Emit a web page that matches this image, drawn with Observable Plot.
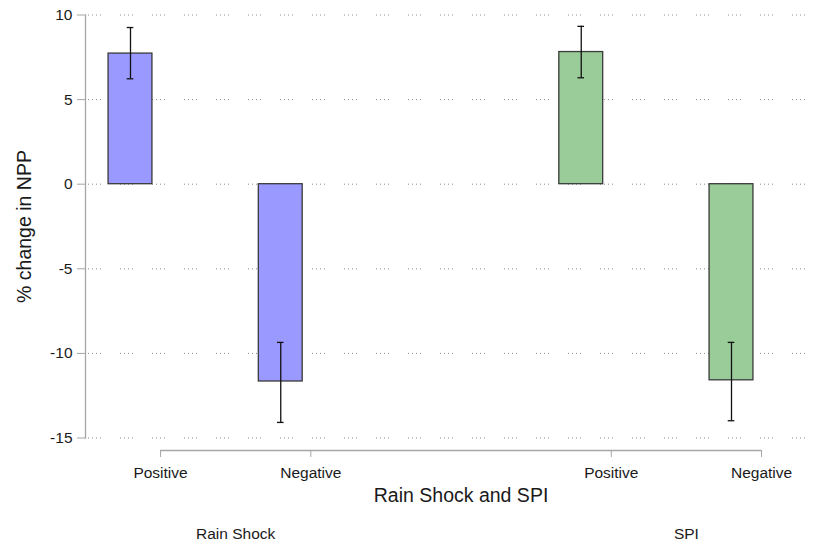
<!DOCTYPE html>
<html>
<head>
<meta charset="utf-8">
<script src="https://cdn.jsdelivr.net/npm/d3@7"></script>
<script src="https://cdn.jsdelivr.net/npm/@observablehq/plot@0.6"></script>
<style>
  html, body { margin: 0; padding: 0; background: #fff; }
</style>
</head>
<body>
<div id="chart"></div>
<script>
// ---- data ----
const groups = ["Rain Shock", "SPI"];
const categories = ["Positive", "Negative"];
const barGroup = ["Rain Shock", "Rain Shock", "SPI", "SPI"];
const barCategory = ["Positive", "Negative", "Positive", "Negative"];
const values = [7.72, -11.66, 7.81, -11.59];
const ciLow = [6.23, -14.08, 6.29, -13.98];
const ciHigh = [9.26, -9.35, 9.33, -9.35];
const yTicks = [-15, -10, -5, 0, 5, 10];
const xTitle = "Rain Shock and SPI";
const yTitle = "% change in NPP";
const groupColors = {"Rain Shock": "#9999ff", "SPI": "#99cc99"};

// ---- layout helpers ----
const slot = (g, c) => groups.indexOf(g) * 3 + categories.indexOf(c);
const tickShift = 0.2;
const halfBar = 0.146;
const halfCap = 0.022;

const data = values.map((v, i) => ({
  group: barGroup[i],
  cat: barCategory[i],
  value: v,
  lo: ciLow[i],
  hi: ciHigh[i],
  pos: slot(barGroup[i], barCategory[i])
}));

const xTicks = data.map(d => d.pos + tickShift);
const xTickLabel = new Map(data.map(d => [d.pos + tickShift, d.cat]));
const groupCenters = groups.map(g => {
  const t = data.filter(d => d.group === g).map(d => d.pos + tickShift);
  return {group: g, x: (d3.min(t) + d3.max(t)) / 2};
});

const axisColor = "#a6a6a6";
const textColor = "#1a1a1a";

const chart = Plot.plot({
  width: 820,
  height: 543,
  marginLeft: 85,
  marginRight: 0,
  marginTop: 14.5,
  marginBottom: 105.5,
  style: {fontFamily: "'Liberation Sans', Arial, sans-serif", fontSize: "15px", background: "#fff", color: textColor},
  x: {domain: [0, 4], range: [130, 731], axis: null},
  y: {domain: [-15, 10], axis: null},
  color: {type: "identity"},
  marks: [
    Plot.gridY(yTicks, {stroke: "#8c8c8c", strokeOpacity: 1, strokeDasharray: "1,3,1,3,1,3,1,19", insetLeft: 3}),
    Plot.frame({anchor: "left", stroke: axisColor, strokeWidth: 1.3}),
    Plot.axisY(yTicks, {tickSize: 8, tickPadding: 5, tickFormat: d => String(d), stroke: axisColor, fill: textColor, fontSize: 15.5}),
    Plot.text([yTitle], {frameAnchor: "left", textAnchor: "middle", lineAnchor: "middle", rotate: -90, dx: -61, fontSize: 19.5, fill: textColor}),
    Plot.rect(data, {x1: d => d.pos - halfBar, x2: d => d.pos + halfBar, y1: 0, y2: "value", fill: d => groupColors[d.group], stroke: "#3a3a3a", strokeWidth: 1.3}),
    Plot.ruleX(data, {x: "pos", y1: "lo", y2: "hi", stroke: "#111", strokeWidth: 1.3}),
    Plot.ruleY(data, {y: "lo", x1: d => d.pos - halfCap, x2: d => d.pos + halfCap, stroke: "#111", strokeWidth: 1.3}),
    Plot.ruleY(data, {y: "hi", x1: d => d.pos - halfCap, x2: d => d.pos + halfCap, stroke: "#111", strokeWidth: 1.3}),
    Plot.ruleY([-15], {x1: d3.min(xTicks), x2: d3.max(xTicks), dy: 12.5, stroke: axisColor, strokeWidth: 1.3}),
    Plot.axisX(xTicks, {tickSize: 7, tickPadding: 9, dy: 12.5, tickFormat: d => xTickLabel.get(d), stroke: axisColor, fill: textColor, fontSize: 15.5}),
    Plot.text([xTitle], {x: (d3.min(xTicks) + d3.max(xTicks)) / 2, frameAnchor: "bottom", lineAnchor: "middle", dy: 58, fontSize: 19.5, fill: textColor}),
    Plot.text(groupCenters, {x: "x", text: "group", frameAnchor: "bottom", lineAnchor: "middle", dy: 96, fontSize: 15.5, fill: textColor})
  ]
});
document.getElementById("chart").appendChild(chart);
</script>
</body>
</html>
